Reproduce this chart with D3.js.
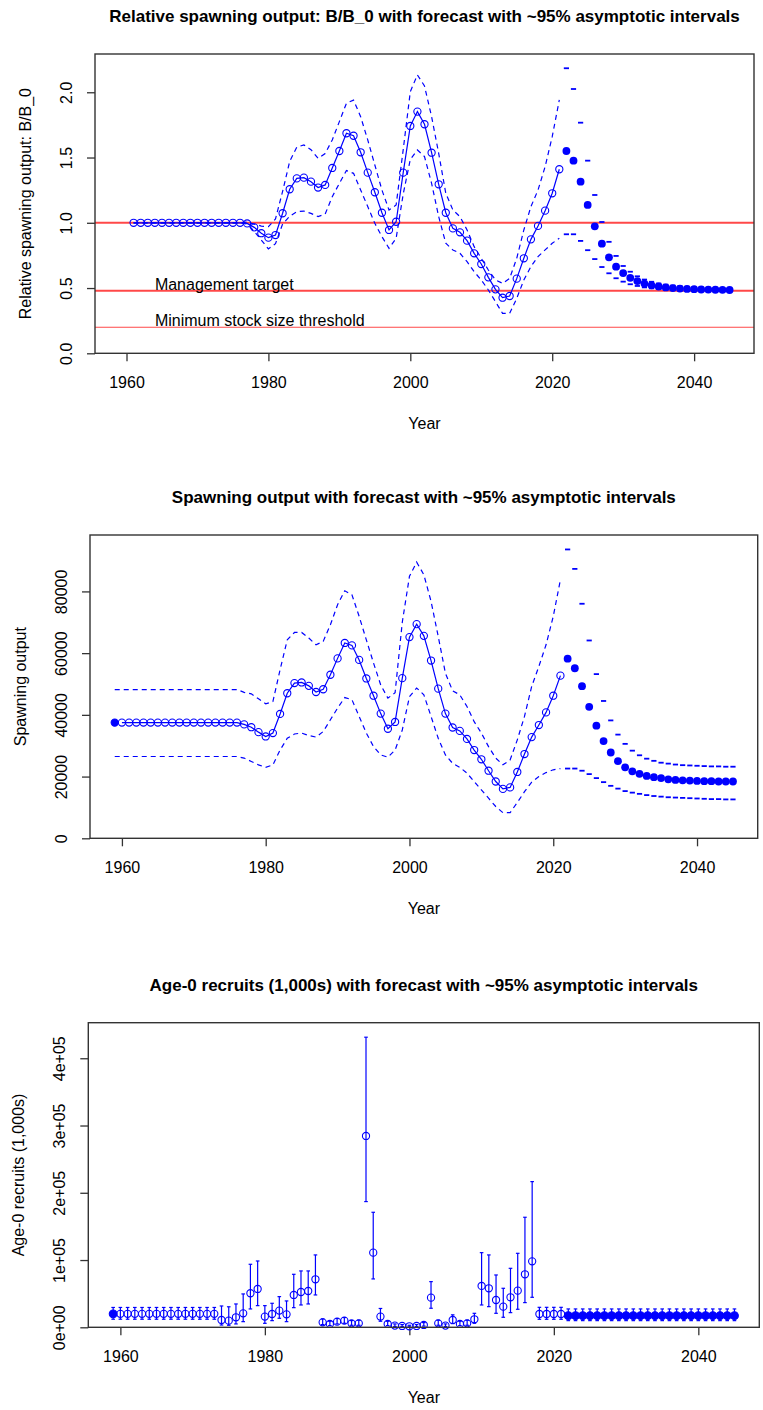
<!DOCTYPE html>
<html>
<head>
<meta charset="utf-8">
<script src="https://cdn.jsdelivr.net/npm/d3@7"></script>
<style>
  body { margin: 0; background: #fff; }
  svg { display: block; }
  text { font-family: "Liberation Sans", Arial, sans-serif; fill: #000; }
</style>
</head>
<body>
<svg id="chart" width="763" height="1410"></svg>
<script>
// ---------- shared year range ----------
const yearFirst = 1959;
const yearLast = 2045;
const xTicks = [1960, 1980, 2000, 2020, 2040];

// ---------- relative spawning output (B/B0) ----------
const relHistStart = 1961;
const relHist = [1.0, 1.0, 1.0, 1.0, 1.0, 1.0, 1.0, 1.0, 1.0, 1.0, 1.0, 1.0, 1.0, 1.0, 1.0, 1.0,
  0.995, 0.965, 0.92, 0.886, 0.906, 1.073, 1.257, 1.34, 1.346, 1.315, 1.27, 1.29, 1.42, 1.55,
  1.686, 1.667, 1.54, 1.384, 1.234, 1.077, 0.945, 1.008, 1.384, 1.742, 1.852, 1.755, 1.537,
  1.295, 1.077, 0.957, 0.927, 0.863, 0.766, 0.684, 0.582, 0.49, 0.426, 0.439, 0.572, 0.728,
  0.873, 0.976, 1.093, 1.226, 1.41];
const relHistHi = [1.0, 1.0, 1.0, 1.0, 1.0, 1.0, 1.0, 1.0, 1.0, 1.0, 1.0, 1.0, 1.0, 1.0, 1.0, 1.0,
  1.005, 0.99, 0.975, 0.97, 1.03, 1.24, 1.47, 1.58, 1.596, 1.56, 1.494, 1.53, 1.635, 1.775,
  1.916, 1.94, 1.813, 1.635, 1.443, 1.251, 1.098, 1.136, 1.56, 2.005, 2.133, 2.048, 1.813,
  1.532, 1.226, 1.098, 1.047, 0.945, 0.817, 0.728, 0.638, 0.562, 0.536, 0.574, 0.728, 0.945,
  1.124, 1.251, 1.43, 1.66, 1.941];
const relHistLo = [1.0, 1.0, 1.0, 1.0, 1.0, 1.0, 1.0, 1.0, 1.0, 1.0, 1.0, 1.0, 1.0, 1.0, 1.0, 1.0,
  0.99, 0.935, 0.868, 0.80, 0.84, 0.99, 1.05, 1.085, 1.09, 1.072, 1.047, 1.067, 1.20, 1.302,
  1.40, 1.379, 1.251, 1.124, 0.996, 0.894, 0.804, 0.881, 1.22, 1.486, 1.558, 1.507, 1.302,
  1.047, 0.843, 0.792, 0.766, 0.702, 0.625, 0.562, 0.485, 0.396, 0.306, 0.306, 0.421, 0.562,
  0.664, 0.741, 0.792, 0.843, 0.881];
const fcStart = 2022;
const relFc = [1.55, 1.476, 1.315, 1.137, 0.973, 0.84, 0.735, 0.664, 0.615, 0.578, 0.553, 0.534,
  0.521, 0.512, 0.505, 0.50, 0.496, 0.493, 0.491, 0.489, 0.488, 0.487, 0.486, 0.485];
const relFcHi = [2.184, 2.025, 1.767, 1.476, 1.213, 1.006, 0.854, 0.746, 0.669, 0.625, 0.59, 0.565,
  0.548, 0.535, 0.526, 0.519, 0.514, 0.51, 0.507, 0.505, 0.503, 0.502, 0.501, 0.50];
const relFcLo = [0.912, 0.912, 0.861, 0.79, 0.722, 0.661, 0.613, 0.575, 0.549, 0.529, 0.516, 0.505,
  0.498, 0.492, 0.487, 0.484, 0.481, 0.479, 0.477, 0.476, 0.475, 0.474, 0.473, 0.472];
const relRefValues = [1.0, 0.48, 0.2];
const relRefLabels = [null, "Management target", "Minimum stock size threshold"];
const relRefLabelYear = 1964;
const relYTicks = [0, 0.5, 1.0, 1.5, 2.0];
const relYTickLabels = ["0.0", "0.5", "1.0", "1.5", "2.0"];

// ---------- spawning output ----------
const ssbHistStart = 1959;
const ssbHist = [37500, 37500, 37500, 37500, 37500, 37500, 37500, 37500, 37500, 37500, 37500, 37500,
  37500, 37500, 37500, 37500, 37500, 37500,
  36900, 36000, 34400, 33000, 34100, 40300, 47000, 50300, 50500, 49400, 47400, 48300, 53000, 58300,
  63300, 62500, 57800, 51800, 46200, 40400, 35500, 37700, 51900, 65200, 69400, 65600, 57600, 48500,
  40400, 35900, 34800, 32200, 28600, 25600, 21900, 18400, 16000, 16500, 21500, 27300, 32800, 36700,
  40800, 46200, 52700];
const ssbHistHi = [48200, 48200, 48200, 48200, 48200, 48200, 48200, 48200, 48200, 48200, 48200, 48200,
  48200, 48200, 48200, 48200, 48200, 48200,
  47300, 46800, 45200, 43600, 44300, 54600, 64300, 66700, 66700, 64900, 62700, 63800, 69200, 75700,
  80200, 78900, 71900, 64300, 56800, 49700, 45400, 47200, 70000, 84900, 89500, 85400, 76800, 65400,
  53500, 47800, 46500, 42700, 37800, 34100, 29700, 26000, 23800, 25400, 31900, 39500, 49200, 55700,
  62700, 71900, 83800];
const ssbHistLo = [26500, 26500, 26500, 26500, 26500, 26500, 26500, 26500, 26500, 26500, 26500, 26500,
  26500, 26500, 26500, 26500, 26500, 26500,
  26000, 24900, 23800, 23000, 23800, 28600, 32400, 33800, 34100, 33300, 32800, 34600, 38400, 42200,
  45600, 44900, 39500, 34100, 29700, 27000, 26300, 28600, 35100, 45900, 48700, 46500, 39500, 32400,
  27000, 24300, 23000, 21100, 18400, 15700, 13000, 10300, 8300, 8300, 11600, 15100, 18200, 20000,
  21300, 22200, 22600];
const ssbFc = [58200, 55100, 49300, 42600, 36500, 31500, 27800, 25000, 23000, 21700, 20900, 20200,
  19800, 19500, 19100, 18900, 18800, 18700, 18600, 18500, 18500, 18400, 18400, 18400];
const ssbFcHi = [93600, 87300, 76000, 64100, 53200, 44500, 38200, 33600, 30600, 28400, 26900, 25800,
  25100, 24500, 24200, 23900, 23700, 23600, 23500, 23400, 23300, 23300, 23200, 23200];
const ssbFcLo = [22600, 22600, 21900, 20800, 19500, 18200, 17000, 16100, 15300, 14800, 14400, 14000,
  13700, 13500, 13300, 13200, 13100, 13000, 12900, 12800, 12700, 12700, 12600, 12600];
const ssbYTicks = [0, 20000, 40000, 60000, 80000];
const ssbYTickLabels = ["0", "20000", "40000", "60000", "80000"];

// ---------- age-0 recruits ----------
const recStart = 1959;
const recVals = [20000,
  20000, 20000, 20000, 20000, 20000, 20000, 20000, 20000, 20000, 20000, 20000, 20000, 20000, 20000,
  10900, 9900, 14900, 20800, 50600, 57000, 15900, 19800, 24800, 19300, 48100, 52500, 54000, 71400,
  7400, 5000, 8400, 9900, 5900, 5900, 284500, 111000, 15900, 5000, 2500, 2000, 1500, 2000, 3500,
  44100, 5900, 2500, 10900, 5000, 5900, 11900, 61500, 58000, 40600, 30700, 44600, 54500, 78800, 98100,
  19800, 19800, 19800, 19800,
  17300, 17300, 17300, 17300, 17300, 17300, 17300, 17300, 17300, 17300, 17300, 17300,
  17300, 17300, 17300, 17300, 17300, 17300, 17300, 17300, 17300, 17300, 17300, 17300];
const recHi = [29500,
  29500, 29500, 29500, 29500, 29500, 29500, 29500, 29500, 29500, 29500, 29500, 29500, 29500, 29500,
  31700, 30500, 34700, 49600, 93700, 98600, 32200, 35700, 45600, 39200, 78800, 83800, 83800, 107600,
  12500, 9000, 13000, 14500, 10000, 10500, 431300, 171000, 28000, 9000, 5000, 4000, 3000, 4000, 7000,
  67900, 10500, 5000, 18500, 9000, 10500, 20800, 111000, 107600, 77800, 58000, 87700, 110000, 163600, 216600,
  29700, 29700, 29700, 29700,
  27300, 27300, 27300, 27300, 27300, 27300, 27300, 27300, 27300, 27300, 27300, 27300,
  27300, 27300, 27300, 27300, 27300, 27300, 27300, 27300, 27300, 27300, 27300, 27300];
const recLo = [12000,
  12000, 12000, 12000, 12000, 12000, 12000, 12000, 12000, 12000, 12000, 12000, 12000, 12000, 12000,
  3400, 3000, 5000, 8400, 27300, 32200, 5900, 9900, 13400, 8400, 29200, 33200, 34700, 48100,
  4000, 2500, 5000, 6000, 3000, 3000, 186900, 71900, 9000, 2500, 1200, 1000, 700, 1000, 1800,
  28300, 3000, 1200, 5500, 2500, 3000, 6000, 33200, 30700, 20800, 14900, 21800, 26800, 36700, 44600,
  11900, 11900, 11900, 11900,
  9900, 9900, 9900, 9900, 9900, 9900, 9900, 9900, 9900, 9900, 9900, 9900,
  9900, 9900, 9900, 9900, 9900, 9900, 9900, 9900, 9900, 9900, 9900, 9900];
// years drawn as solid symbols (virgin level and forecast)
const recFilledYears = [1959];
const recYTicks = [0, 100000, 200000, 300000, 400000];
const recYTickLabels = ["0e+00", "1e+05", "2e+05", "3e+05", "4e+05"];

// ---------- drawing helpers ----------
const svg = d3.select("#chart");
const BLUE = "#0000ff";
const FRAME = "#333";

function withYears(start, arr) { return arr.map((v, i) => ({ year: start + i, v })); }
function padRange(lo, hi) { const d = (hi - lo) * 0.04; return [lo - d, hi + d]; }

function panel(cfg) {
  const g = svg.append("g");
  const x = d3.scaleLinear().domain(padRange(yearFirst, yearLast)).range([cfg.left, cfg.right]);
  const y = d3.scaleLinear().domain([0, cfg.ymax * 1.05]).range([cfg.bottom, cfg.top]);

  // title
  g.append("text").attr("x", (cfg.left + cfg.right) / 2).attr("y", cfg.top - 32)
    .attr("text-anchor", "middle").attr("font-weight", "bold").attr("font-size", 17)
    .text(cfg.title);

  // x axis
  const xa = g.append("g").attr("transform", `translate(0,${cfg.bottom})`)
    .call(d3.axisBottom(x).tickValues(xTicks).tickFormat(d3.format("d")).tickSize(8).tickPadding(15.5));
  xa.select(".domain").remove();
  xa.selectAll(".tick line").attr("stroke", FRAME).attr("stroke-width", 1.3);
  xa.selectAll(".tick text").attr("font-size", 16).attr("font-family", "Liberation Sans, Arial, sans-serif");

  // y axis
  const ya = g.append("g").attr("transform", `translate(${cfg.left},0)`)
    .call(d3.axisLeft(y).tickValues(cfg.yTicks).tickFormat((d, i) => cfg.yTickLabels[i]).tickSize(8));
  ya.select(".domain").remove();
  ya.selectAll(".tick line").attr("stroke", FRAME).attr("stroke-width", 1.3);
  ya.selectAll(".tick text")
    .attr("x", null).attr("dy", null)
    .attr("font-size", 16).attr("font-family", "Liberation Sans, Arial, sans-serif")
    .attr("text-anchor", "middle")
    .attr("transform", "translate(-23.4,0) rotate(-90)");

  // axis titles
  g.append("text").attr("x", (cfg.left + cfg.right) / 2).attr("y", cfg.bottom + 76)
    .attr("text-anchor", "middle").attr("font-size", 16).text("Year");
  g.append("text")
    .attr("transform", `translate(${cfg.left - 64},${(cfg.top + cfg.bottom) / 2}) rotate(-90)`)
    .attr("text-anchor", "middle").attr("font-size", 16).text(cfg.ylab);

  return { g, x, y };
}

function drawBoxOn(p, cfg) {
  p.g.append("rect").attr("x", cfg.left).attr("y", cfg.top)
    .attr("width", cfg.right - cfg.left).attr("height", cfg.bottom - cfg.top)
    .attr("fill", "none").attr("stroke", FRAME).attr("stroke-width", 1.4);
}

function drawSeries(p, hist, hi, lo, fc, fcHi, fcLo, filledYears) {
  const { g, x, y } = p;
  const line = d3.line().x(d => x(d.year)).y(d => y(d.v));
  [hi, lo].forEach(s => g.append("path").datum(s).attr("d", line)
    .attr("fill", "none").attr("stroke", BLUE).attr("stroke-width", 1.2)
    .attr("stroke-dasharray", "5,4"));
  const histLine = hist.filter(d => !filledYears.includes(d.year));
  g.append("path").datum(histLine).attr("d", line)
    .attr("fill", "none").attr("stroke", BLUE).attr("stroke-width", 1.2);
  g.selectAll(null).data(hist).join("circle")
    .attr("cx", d => x(d.year)).attr("cy", d => y(d.v)).attr("r", 3.6)
    .attr("fill", d => filledYears.includes(d.year) ? BLUE : "none")
    .attr("stroke", BLUE).attr("stroke-width", 1.1);
  // forecast interval marks
  g.selectAll(null).data(fcHi.concat(fcLo)).join("line")
    .attr("x1", d => x(d.year) - 2.6).attr("x2", d => x(d.year) + 2.6)
    .attr("y1", d => y(d.v)).attr("y2", d => y(d.v))
    .attr("stroke", BLUE).attr("stroke-width", 1.8);
  g.selectAll(null).data(fc).join("circle")
    .attr("cx", d => x(d.year)).attr("cy", d => y(d.v)).attr("r", 3.9)
    .attr("fill", BLUE);
}

// ---------- panel 1: B/B0 ----------
{
  const relH = withYears(relHistStart, relHist);
  const relHi = withYears(relHistStart, relHistHi);
  const relLo = withYears(relHistStart, relHistLo);
  const fc = withYears(fcStart, relFc), fcHi = withYears(fcStart, relFcHi), fcLo = withYears(fcStart, relFcLo);
  const cfg = { left: 95, right: 754, top: 54, bottom: 353.3,
    ymax: d3.max(relHistHi.concat(relFcHi)),
    title: "Relative spawning output: B/B_0 with forecast with ~95% asymptotic intervals",
    ylab: "Relative spawning output: B/B_0", yTicks: relYTicks, yTickLabels: relYTickLabels };
  const p = panel(cfg);
  // reference levels
  relRefValues.forEach((v, i) => {
    p.g.append("line").attr("x1", cfg.left).attr("x2", cfg.right)
      .attr("y1", p.y(v)).attr("y2", p.y(v))
      .attr("stroke", "#ff4848").attr("stroke-width", i < 2 ? 2 : 1.1);
    if (relRefLabels[i]) {
      p.g.append("text").attr("x", p.x(relRefLabelYear)).attr("y", p.y(v) - 1)
        .attr("font-size", 16).attr("fill", "#1a1a1a").text(relRefLabels[i]);
    }
  });
  drawSeries(p, relH, relHi, relLo, fc, fcHi, fcLo, []);
  drawBoxOn(p, cfg);
}

// ---------- panel 2: spawning output ----------
{
  const h = withYears(ssbHistStart, ssbHist);
  const hi = withYears(ssbHistStart, ssbHistHi);
  const lo = withYears(ssbHistStart, ssbHistLo);
  const fc = withYears(fcStart, ssbFc), fcHi = withYears(fcStart, ssbFcHi), fcLo = withYears(fcStart, ssbFcLo);
  const cfg = { left: 90, right: 757.7, top: 535, bottom: 838.3,
    ymax: d3.max(ssbHistHi.concat(ssbFcHi)),
    title: "Spawning output with forecast with ~95% asymptotic intervals",
    ylab: "Spawning output", yTicks: ssbYTicks, yTickLabels: ssbYTickLabels };
  const p = panel(cfg);
  drawSeries(p, h, hi, lo, fc, fcHi, fcLo, [ssbHistStart]);
  drawBoxOn(p, cfg);
}

// ---------- panel 3: recruits ----------
{
  const rec = recVals.map((v, i) => ({ year: recStart + i, v, hi: recHi[i], lo: recLo[i] }));
  const cfg = { left: 88.3, right: 759.3, top: 1022.7, bottom: 1327.3,
    ymax: d3.max(recHi),
    title: "Age-0 recruits (1,000s) with forecast with ~95% asymptotic intervals",
    ylab: "Age-0 recruits (1,000s)", yTicks: recYTicks, yTickLabels: recYTickLabels };
  const p = panel(cfg);
  const { g, x, y } = p;
  const isFilled = d => recFilledYears.includes(d.year) || d.year >= fcStart;
  const bars = g.selectAll(null).data(rec).join("g");
  bars.append("line").attr("x1", d => x(d.year)).attr("x2", d => x(d.year))
    .attr("y1", d => y(d.lo)).attr("y2", d => y(d.hi))
    .attr("stroke", BLUE).attr("stroke-width", 1.2);
  ["lo", "hi"].forEach(k => bars.append("line")
    .attr("x1", d => x(d.year) - 1.8).attr("x2", d => x(d.year) + 1.8)
    .attr("y1", d => y(d[k])).attr("y2", d => y(d[k]))
    .attr("stroke", BLUE).attr("stroke-width", 1.2));
  bars.append("circle").attr("cx", d => x(d.year)).attr("cy", d => y(d.v))
    .attr("r", d => isFilled(d) ? 3.9 : 3.6)
    .attr("fill", d => isFilled(d) ? BLUE : "none")
    .attr("stroke", BLUE).attr("stroke-width", 1.1);
  drawBoxOn(p, cfg);
}
</script>
</body>
</html>
